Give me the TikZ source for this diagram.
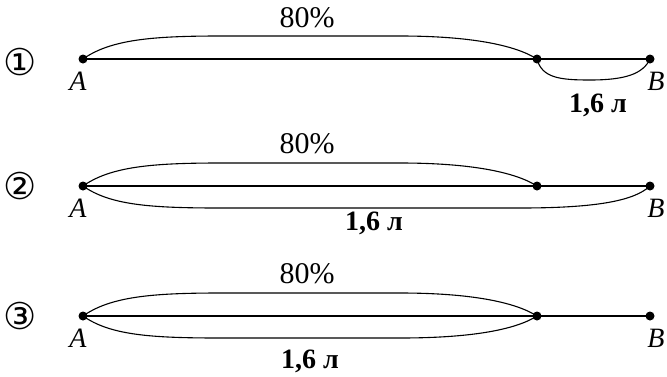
\documentclass[tikz,border=0pt]{standalone}
\usepackage{fontspec}
\setmainfont{Liberation Serif}
\newfontfamily\symfont{DejaVu Sans}
\begin{document}
\begin{tikzpicture}[x=1pt,y=-1pt,
  seg/.style={line width=2.6pt},
  arc/.style={line width=1.1pt},
  dot/.style={circle,fill=black,inner sep=0pt,minimum size=9pt},
  pct/.style={font=\fontsize{30}{32}\selectfont,anchor=base,inner sep=0pt},
  vol/.style={font=\fontsize{28}{30}\selectfont\bfseries,anchor=base,inner sep=0pt},
  pt/.style={font=\fontsize{28}{30}\selectfont\itshape,anchor=base,inner sep=0pt},
  num/.style={font=\symfont\fontsize{37}{40}\selectfont,inner sep=0pt}]
\useasboundingbox (0,0) rectangle (667,376);
% Row 1
\node[dot] (A1) at (83,59) {};
\node[dot] (M1) at (537,59) {};
\node[dot] (B1) at (650,59) {};
\draw[seg] (A1.center) -- (B1.center);
\draw[arc] (A1.center) .. controls (110,40) and (150,36) .. (220,36) -- (400,36) .. controls (470,36) and (515,45) .. (M1.center);
\draw[arc] (M1.center) .. controls (542,78) and (560,80) .. (590,80) .. controls (625,80) and (643,74) .. (B1.center);
\node[num] (n1) at (20,62) {①};
\node[pt] (lA1) at (78,90) {A};
\node[pt] (lB1) at (656,90) {B};
\node[pct] (p1) at (307,27) {80\%};
\node[vol] (v1) at (598,112) {1,6 л};
% Row 2
\node[dot] (A2) at (83,186) {};
\node[dot] (M2) at (537,186) {};
\node[dot] (B2) at (650,186) {};
\draw[seg] (A2.center) -- (B2.center);
\draw[arc] (A2.center) .. controls (110,167) and (150,163) .. (220,163) -- (400,163) .. controls (470,163) and (515,172) .. (M2.center);
\draw[arc] (A2.center) .. controls (110,205) and (150,208) .. (220,208) -- (520,208) .. controls (600,208) and (635,200) .. (B2.center);
\node[num] (n2) at (20,186) {②};
\node[pt] (lA2) at (78,217) {A};
\node[pt] (lB2) at (656,217) {B};
\node[pct] (p2) at (307,153) {80\%};
\node[vol] (v2) at (374,230) {1,6 л};
% Row 3
\node[dot] (A3) at (83,316) {};
\node[dot] (M3) at (537,316) {};
\node[dot] (B3) at (650,316) {};
\draw[seg] (A3.center) -- (B3.center);
\draw[arc] (A3.center) .. controls (110,297) and (150,293) .. (220,293) -- (400,293) .. controls (470,293) and (515,302) .. (M3.center);
\draw[arc] (A3.center) .. controls (110,335) and (150,338) .. (220,338) -- (400,338) .. controls (470,338) and (515,330) .. (M3.center);
\node[num] (n3) at (20,316) {③};
\node[pt] (lA3) at (78,347) {A};
\node[pt] (lB3) at (656,347) {B};
\node[pct] (p3) at (307,283) {80\%};
\node[vol] (v3) at (310,368) {1,6 л};
\end{tikzpicture}
\end{document}
